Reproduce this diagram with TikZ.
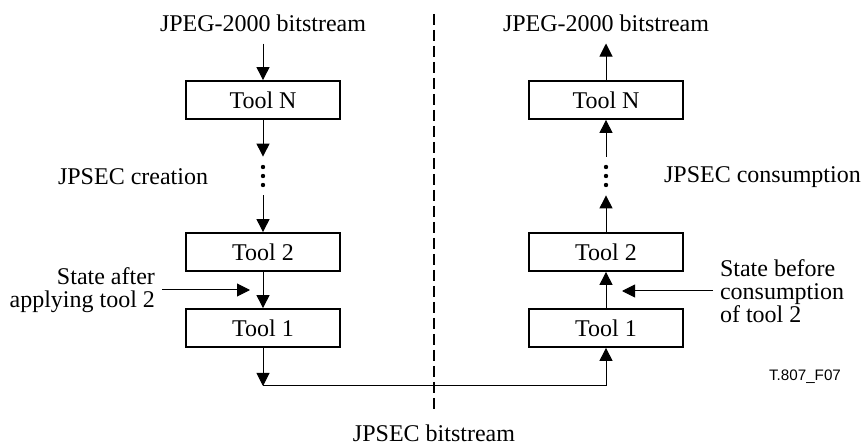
\documentclass[tikz,border=0pt]{standalone}
\usepackage{fontspec}
\setmainfont{Liberation Serif}
\setsansfont{Liberation Sans}
\usetikzlibrary{arrows.meta}

\begin{document}
\begin{tikzpicture}[%
      x=0.5pt, y=-0.5pt,
      font=\fontsize{12}{11.6}\selectfont,
      tool/.style={draw, line width=0.9pt, minimum width=77pt, minimum height=19pt, inner sep=0pt},
      gap/.style={minimum width=4pt, minimum height=19pt, inner sep=0pt},
      flow/.style={line width=0.5pt, -{Triangle[length=6.5pt,width=6.5pt]}},
      ]
      \useasboundingbox (0,0) rectangle (862,448);

      % creation side
      \node (lsrc) at (263,23) {JPEG-2000 bitstream};
      \node [tool] (ltoolN) at (263,100) {Tool N};
      \node [gap] (ldots) at (263,176) {};
      \node [tool] (ltool2) at (263,252) {Tool 2};
      \node [tool] (ltool1) at (263,328) {Tool 1};
      \node [anchor=west] (lname) at (51,177) {JPSEC creation};
      \node [anchor=east, align=right] (lstate) at (162,290) {State after\\applying tool 2};
      \coordinate (lmid) at (263,290);
      \coordinate (lcorner) at (263,386);

      % consumption side
      \node (rsrc) at (606,23) {JPEG-2000 bitstream};
      \node [tool] (rtoolN) at (606,100) {Tool N};
      \node [gap] (rdots) at (606,176) {};
      \node [tool] (rtool2) at (606,252) {Tool 2};
      \node [tool] (rtool1) at (606,328) {Tool 1};
      \node [anchor=west] (rname) at (657,177) {JPSEC consumption};
      \node [anchor=west, align=left] (rstate) at (713,291) {State before\\consumption\\of tool 2};
      \coordinate (rmid) at (606,291);
      \coordinate (rcorner) at (606,386);

      % separator
      \coordinate (dtop) at (434,14);
      \coordinate (dbot) at (434,413);
      \draw [line width=1.2pt, dash pattern=on 5.5pt off 2.5pt] (dtop) -- (dbot);
      \node (bits) at (434,433) {JPSEC bitstream};
      \node [font=\sffamily\fontsize{7.6}{9}\selectfont] (fig) at (805,377) {T.807\_F07};

      \draw [flow, shorten <=2.5pt] (lsrc) -- (ltoolN);
      \draw [flow] (ltoolN) -- (ldots);
      \draw [flow] (ldots) -- (ltool2);
      \draw [flow] (ltool2) -- (ltool1);
      \draw [flow, shorten >=6.5pt] (lstate.east) -- (lmid);
      \draw [flow] (ltool1) -- (lcorner);
      \draw [line width=0.5pt] (lcorner) -- (rcorner);

      \draw [flow] (rcorner) -- (rtool1);
      \draw [flow] (rtool1) -- (rtool2);
      \draw [flow, shorten >=8pt] (rstate.west) -- (rmid);
      \draw [flow] (rtool2) -- (rdots);
      \draw [flow] (rdots) -- (rtoolN);
      \draw [flow, shorten >=2.5pt] (rtoolN) -- (rsrc);

      \foreach \x in {263,606}
        \foreach \y in {167,176,185}
          \fill (\x,\y) circle (1.1pt);
\end{tikzpicture}
\end{document}
